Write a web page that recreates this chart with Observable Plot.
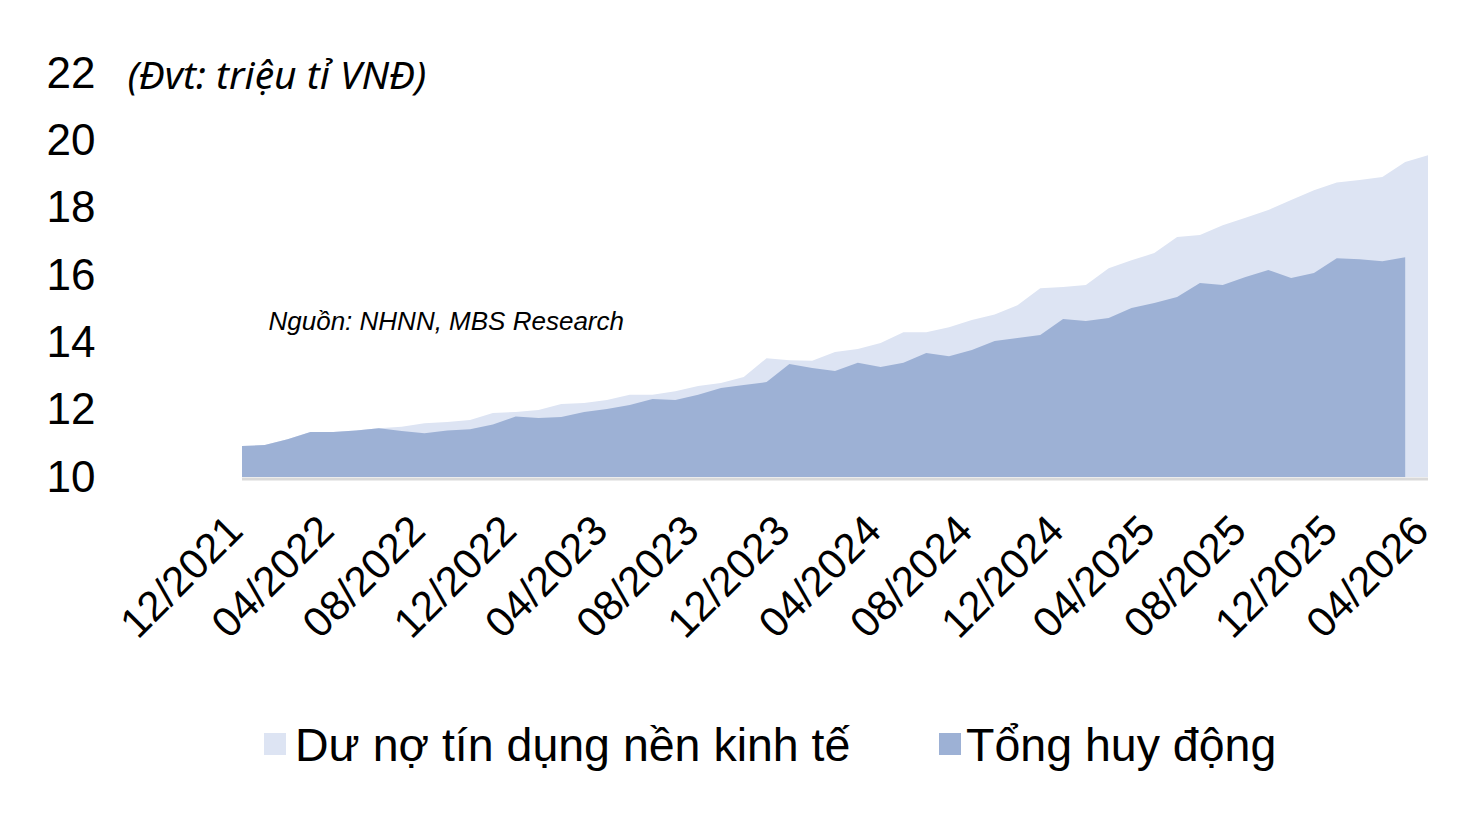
<!DOCTYPE html>
<html><head><meta charset="utf-8">
<script src="https://cdn.jsdelivr.net/npm/d3@7"></script>
<script src="https://cdn.jsdelivr.net/npm/@observablehq/plot@0.6"></script>
<style>
body{margin:0;background:#fff;font-family:"Liberation Sans",Arial,sans-serif;}
#wrap{position:relative;width:1476px;height:815px;overflow:hidden;}
#legend{position:absolute;top:700px;left:0;width:1476px;height:115px;}
.sw{position:absolute;width:22px;height:22px;}
.lt{position:absolute;font-size:46.5px;line-height:1;color:#000;white-space:nowrap;}
</style></head><body>
<div id="wrap"><div id="chart"></div><div id="legend"></div></div>
<script>
// Tick labels (every 4 months, 12/2021 .. 04/2026)
const tickLabels = ["12/2021","04/2022","08/2022","12/2022","04/2023","08/2023","12/2023","04/2024","08/2024","12/2024","04/2025","08/2025","12/2025","04/2026"];
const yTicks = [10,12,14,16,18,20,22];
const seriesNames = ["Dư nợ tín dụng nền kinh tế","Tổng huy động"];
const colors = ["#dde4f3","#9db1d5"];
const unitLabel = "(Đvt: triệu tỉ VNĐ)";
const sourceLabel = "Nguồn: NHNN, MBS Research";

// Monthly values, 12/2021 .. 04/2026 (credit) and .. 03/2026 (deposits)
const creditSeries = [10.92,10.95,11.12,11.34,11.34,11.38,11.45,11.49,11.60,11.63,
  11.69,11.90,11.93,11.99,12.17,12.20,12.29,12.44,12.44,12.55,
  12.70,12.79,12.97,13.53,13.47,13.45,13.71,13.80,13.98,14.30,
  14.30,14.45,14.66,14.83,15.10,15.61,15.64,15.70,16.20,16.44,
  16.65,17.13,17.19,17.48,17.70,17.93,18.23,18.52,18.75,18.82,
  18.91,19.36,19.56];
const depositSeries = [10.92,10.95,11.12,11.34,11.34,11.38,11.45,11.37,11.30,11.38,
  11.42,11.56,11.80,11.75,11.78,11.93,12.02,12.14,12.32,12.29,
  12.44,12.64,12.73,12.82,13.36,13.24,13.15,13.39,13.27,13.39,
  13.68,13.59,13.77,14.04,14.13,14.22,14.69,14.63,14.72,15.02,
  15.17,15.35,15.76,15.70,15.94,16.15,15.91,16.06,16.50,16.47,
  16.41,16.53];

const creditData = creditSeries.map((v, i) => ({i, v}));
const depositData = depositSeries.map((v, i) => ({i, v}));
const tickIdx = tickLabels.map((_, k) => k * 4);

const chart = Plot.plot({
  width: 1476, height: 700,
  marginLeft: 242, marginRight: 48, marginTop: 73, marginBottom: 223,
  style: {fontFamily: '"Liberation Sans", Arial, sans-serif', color: "#000", background: "#fff", overflow: "visible"},
  x: {type: "linear", domain: [0, creditSeries.length - 1], axis: null},
  y: {domain: [10, 22], axis: null},
  marks: [
    Plot.areaY(creditData, {x: "i", y1: () => 10, y2: "v", fill: colors[0]}),
    Plot.areaY(depositData, {x: "i", y1: () => 10, y2: "v", fill: colors[1]}),
    Plot.ruleY([10], {stroke: "#d9d9d9", strokeWidth: 3, dy: 1.5}),
    Plot.axisY({ticks: yTicks, label: null, tickSize: 0, tickPadding: 147, fontSize: 44, tickFormat: d => String(d)}),
    Plot.axisX({ticks: tickIdx, label: null, tickSize: 0, tickPadding: 46, dx: -7, tickRotate: -45, fontSize: 42, tickFormat: d => tickLabels[Math.round(d / 4)]}),
    Plot.text([unitLabel], {text: d => d, frameAnchor: "top-left", dx: -115, dy: 3, textAnchor: "start", lineAnchor: "middle", fontSize: 39, fontStyle: "italic", fontFamily: '"Noto Sans", sans-serif'}),
    Plot.text([sourceLabel], {text: d => d, frameAnchor: "top-left", dx: 26, dy: 248, textAnchor: "start", lineAnchor: "middle", fontSize: 26, fontStyle: "italic"})
  ]
});
document.getElementById("chart").appendChild(chart);

const legend = document.getElementById("legend");
const legendItems = [{sx: 264, tx: 295}, {sx: 939, tx: 966}];
seriesNames.forEach((name, k) => {
  const sw = document.createElement("div");
  sw.className = "sw";
  sw.style.left = legendItems[k].sx + "px";
  sw.style.top = "33px";
  sw.style.background = colors[k];
  legend.appendChild(sw);
  const t = document.createElement("div");
  t.className = "lt";
  t.style.left = legendItems[k].tx + "px";
  t.style.top = "22px";
  t.textContent = name;
  legend.appendChild(t);
});
</script>
</body></html>
